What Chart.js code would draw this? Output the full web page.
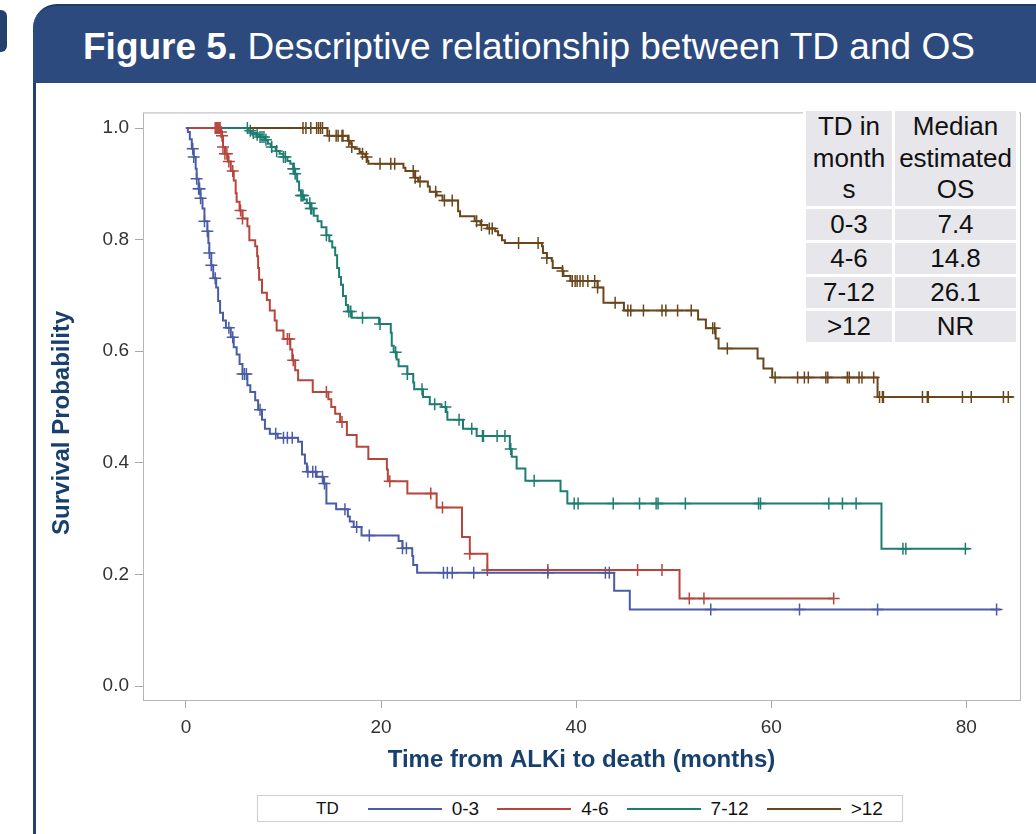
<!DOCTYPE html>
<html>
<head>
<meta charset="utf-8">
<script src="https://cdn.jsdelivr.net/npm/chart.js@4.4.0/dist/chart.umd.min.js"></script>
<style>
  body { margin: 0; width: 1036px; height: 834px; overflow: hidden; background: #fff; position: relative;
         font-family: "Liberation Sans", Arial, sans-serif; }
  #stub { position: absolute; left: 0; top: 10px; width: 7px; height: 42px; background: #24406f; border-radius: 0 6px 6px 0; }
  #banner { position: absolute; left: 33px; top: 4px; width: 1020px; height: 79px; background: #2c4a7d;
            border-top-left-radius: 24px; border-top: 2px solid #1c3c6c; box-sizing: border-box; }
  #banner h1 { margin: 0; position: absolute; left: 50px; top: 20px; font-weight: normal; font-size: 37px;
               line-height: 42px; color: #fff; white-space: nowrap; }
  #side { position: absolute; left: 33px; top: 83px; width: 3px; height: 760px; background: #24406f; }
  #wrap { position: absolute; left: 40px; top: 95px; width: 996px; height: 690px; }
  #tbl { position: absolute; left: 803px; top: 108px; border-collapse: separate; border-spacing: 3px;
         background: #fff; font-size: 26px; color: #111; text-align: center; }
  #tbl td { background: #e7e7eb; padding: 0; height: 31px; line-height: 31px; }
  #tbl tr.head td { height: 95px; line-height: 31.5px; }
  #legend { position: absolute; left: 257px; top: 795px; width: 646px; height: 27px; border: 1px solid #cfcfcf;
            box-sizing: border-box; display: flex; align-items: center; font-size: 19px; color: #111;
            white-space: nowrap; }
  #legend span { flex-shrink: 0; }
  #legend .ln { display: inline-block; width: 74px; height: 2px; margin: 0 10px 0 0; }
  #legend .lab { margin-right: 18px; }
</style>
</head>
<body>
<div id="stub"></div>
<div id="banner"><h1><b>Figure 5.</b> Descriptive relationship between TD and OS</h1></div>
<div id="side"></div>
<div id="wrap"><canvas id="km" width="996" height="690"></canvas></div>
<table id="tbl">
  <tr class="head"><td style="width:86px">TD in<br>month<br>s</td><td style="width:121px">Median<br>estimated<br>OS</td></tr>
</table>
<div id="legend"></div>

<script>
// groups and their median OS (table)
const groups = ['0-3', '4-6', '7-12', '>12'];
const medians = ['7.4', '14.8', '26.1', 'NR'];
const colors = ['#4a5ca6', '#b6453b', '#1e7d71', '#6a461c'];

// step points (time in months, survival after the drop)
const blueT = [0, 0.2, 0.4, 0.6, 0.8, 1.0, 1.1, 1.3, 1.5, 1.7, 1.9, 2.2, 2.3, 2.4, 2.6, 2.8, 3.1, 3.3, 3.5, 3.8, 4.1, 4.6, 4.9, 5.2, 5.5, 5.8, 6.3, 6.6, 7.1, 7.4, 7.8, 8.1, 8.6, 9.4, 11.5, 11.9, 12.2, 12.4, 13.4, 14.1, 14.4, 15.4, 16.6, 16.8, 17.2, 18.0, 21.8, 22.2, 23.2, 23.3, 23.7, 43.9, 45.5, 83.5];
const blueS = [1, 0.993, 0.98, 0.963, 0.948, 0.927, 0.909, 0.891, 0.874, 0.856, 0.833, 0.815, 0.794, 0.776, 0.754, 0.731, 0.714, 0.69, 0.669, 0.655, 0.642, 0.625, 0.607, 0.594, 0.577, 0.559, 0.539, 0.527, 0.512, 0.495, 0.477, 0.461, 0.452, 0.445, 0.438, 0.415, 0.399, 0.384, 0.375, 0.363, 0.327, 0.317, 0.304, 0.295, 0.285, 0.27, 0.26, 0.247, 0.233, 0.217, 0.203, 0.171, 0.137, 0.137];
const blueCens = [0.7, 0.8, 1.1, 1.3, 1.4, 1.5, 1.9, 2.2, 2.4, 2.6, 3.0, 4.4, 4.8, 5.8, 6.0, 6.2, 7.6, 9.2, 10.0, 10.4, 10.9, 12.5, 13.0, 13.3, 14.0, 14.2, 16.3, 17.5, 18.8, 22.2, 22.6, 26.4, 26.8, 27.3, 29.5, 37.1, 43.0, 43.4, 53.8, 62.9, 70.9, 83.1];

const redT = [0, 3.6, 3.7, 3.8, 4.0, 4.3, 4.6, 4.9, 5.1, 5.2, 5.5, 5.8, 6.3, 6.5, 7.1, 7.3, 7.4, 7.5, 7.8, 8.3, 8.6, 9.1, 9.3, 10.0, 10.7, 10.9, 11.2, 11.5, 13.0, 14.6, 14.9, 15.3, 15.8, 16.5, 17.5, 18.7, 20.6, 20.7, 22.7, 25.7, 28.3, 29.1, 30.9, 50.6, 66.4];
const redS = [1, 0.993, 0.986, 0.966, 0.954, 0.94, 0.923, 0.906, 0.883, 0.868, 0.852, 0.838, 0.824, 0.799, 0.788, 0.77, 0.749, 0.728, 0.705, 0.692, 0.673, 0.655, 0.637, 0.622, 0.603, 0.584, 0.566, 0.548, 0.527, 0.514, 0.5, 0.488, 0.473, 0.45, 0.429, 0.407, 0.388, 0.367, 0.345, 0.32, 0.267, 0.237, 0.208, 0.157, 0.157];
const redCens = [3.0, 3.1, 3.2, 3.3, 3.4, 3.5, 3.6, 3.7, 3.8, 4.0, 4.2, 4.4, 4.8, 5.6, 5.8, 10.4, 10.6, 11.0, 14.4, 16.0, 20.9, 25.1, 26.3, 29.1, 30.9, 37.1, 46.3, 48.8, 51.6, 53.1, 66.4];

const tealT = [0, 6.4, 6.8, 7.2, 7.6, 8.1, 8.4, 8.7, 9.2, 9.6, 10.0, 10.4, 10.7, 11.0, 11.2, 11.4, 11.6, 11.8, 12.1, 12.4, 12.8, 13.1, 13.5, 13.9, 14.4, 14.7, 15.0, 15.3, 15.5, 15.7, 15.9, 16.1, 16.4, 16.6, 17.0, 19.8, 21.0, 21.1, 21.3, 21.6, 21.8, 22.7, 23.3, 23.4, 24.3, 25.0, 26.2, 26.7, 26.8, 28.4, 29.8, 33.2, 33.4, 33.9, 34.8, 38.4, 39.1, 71.3, 80.3];
const tealS = [1, 0.995, 0.991, 0.988, 0.984, 0.979, 0.972, 0.966, 0.959, 0.954, 0.948, 0.941, 0.936, 0.927, 0.918, 0.904, 0.888, 0.879, 0.872, 0.865, 0.856, 0.843, 0.833, 0.822, 0.808, 0.797, 0.786, 0.772, 0.749, 0.733, 0.719, 0.699, 0.683, 0.671, 0.66, 0.649, 0.633, 0.61, 0.598, 0.585, 0.573, 0.559, 0.544, 0.532, 0.518, 0.505, 0.5, 0.491, 0.477, 0.461, 0.448, 0.425, 0.411, 0.39, 0.368, 0.349, 0.327, 0.246, 0.246];
const tealCens = [6.3, 6.6, 6.9, 7.3, 7.6, 7.8, 8.0, 8.2, 8.8, 9.3, 10.0, 10.2, 11.0, 11.1, 11.2, 11.8, 11.9, 12.0, 12.7, 12.8, 12.9, 14.4, 16.7, 16.9, 18.1, 19.9, 21.5, 22.7, 24.2, 25.5, 26.6, 28.0, 29.3, 30.4, 30.5, 31.9, 32.7, 33.3, 35.7, 39.8, 40.2, 43.8, 46.5, 48.2, 48.4, 51.2, 58.7, 58.9, 65.9, 67.3, 68.7, 73.5, 73.8, 79.9];

const brownT = [0, 14.5, 16.6, 16.8, 17.0, 17.3, 17.8, 18.1, 18.4, 18.6, 18.7, 22.3, 22.5, 23.5, 23.8, 24.8, 25.0, 25.7, 26.3, 27.9, 28.1, 29.6, 30.2, 30.9, 31.7, 32.0, 32.4, 32.7, 36.5, 36.6, 37.0, 37.5, 37.6, 38.6, 38.7, 39.4, 42.2, 42.8, 44.9, 52.5, 53.3, 54.3, 54.6, 58.6, 59.2, 60.1, 70.9, 84.8];
const brownS = [1, 0.986, 0.977, 0.972, 0.966, 0.963, 0.957, 0.954, 0.948, 0.941, 0.936, 0.929, 0.923, 0.911, 0.904, 0.895, 0.886, 0.879, 0.87, 0.851, 0.842, 0.833, 0.826, 0.82, 0.815, 0.808, 0.799, 0.794, 0.788, 0.776, 0.767, 0.762, 0.749, 0.744, 0.735, 0.726, 0.714, 0.687, 0.673, 0.657, 0.641, 0.623, 0.605, 0.587, 0.569, 0.553, 0.518, 0.518];
const brownCens = [12.0, 12.3, 12.8, 13.4, 13.6, 13.8, 14.0, 14.7, 15.4, 15.6, 16.0, 16.1, 16.7, 17.0, 18.1, 18.5, 19.9, 21.0, 21.4, 23.3, 23.5, 24.0, 25.6, 26.5, 27.3, 29.8, 30.3, 31.1, 31.4, 34.1, 36.1, 37.0, 38.6, 39.6, 39.9, 40.1, 40.4, 40.7, 41.2, 41.9, 42.2, 44.0, 45.3, 45.6, 46.9, 48.8, 49.2, 50.4, 51.8, 54.0, 54.2, 55.5, 60.4, 62.7, 63.4, 63.8, 65.6, 65.8, 67.8, 68.0, 69.0, 69.3, 70.5, 71.1, 71.4, 71.5, 75.5, 76.0, 76.1, 79.6, 80.5, 83.8, 84.3];

const xTicks = [0, 20, 40, 60, 80];
const yTicks = [0, 0.2, 0.4, 0.6, 0.8, 1.0];

const curves = [[blueT, blueS, blueCens], [redT, redS, redCens], [tealT, tealS, tealCens], [brownT, brownS, brownCens]];

// survival value of a step curve at time t
function survAt(T, S, t) {
  let s = S[0];
  for (let i = 0; i < T.length; i++) if (T[i] <= t) s = S[i];
  return s;
}

// median table rows
const tbl = document.getElementById('tbl');
groups.forEach((g, i) => {
  const tr = document.createElement('tr');
  tr.innerHTML = '<td>' + g.replace('>', '&gt;') + '</td><td>' + medians[i] + '</td>';
  tbl.appendChild(tr);
});

// legend
const legend = document.getElementById('legend');
let html = '<span style="margin-left:58px;margin-right:29px;font-size:17px">TD</span>';
groups.forEach((g, i) => {
  html += '<span class="ln" style="background:' + colors[i] + '"></span><span class="lab">' + g.replace('>', '&gt;') + '</span>';
});
legend.innerHTML = html;

const datasets = [];
curves.forEach((c, i) => {
  datasets.push({
    data: c[0].map((t, j) => ({ x: t, y: c[1][j] })),
    borderColor: colors[i], borderWidth: 2, stepped: true, pointRadius: 0, fill: false
  });
});
curves.forEach((c, i) => {
  datasets.push({
    data: c[2].map(t => ({ x: t, y: survAt(c[0], c[1], t) })),
    showLine: false, pointStyle: 'cross', pointRadius: 6, pointBorderWidth: 1.5,
    pointBorderColor: colors[i], pointBackgroundColor: colors[i]
  });
});

const frame = {
  id: 'frame',
  beforeDatasetsDraw(chart) {
    const a = chart.chartArea, ctx = chart.ctx;
    ctx.save();
    ctx.strokeStyle = '#b3b6ba';
    ctx.lineWidth = 1;
    ctx.strokeRect(a.left + 0.5, a.top + 0.5, a.right - a.left, a.bottom - a.top);
    ctx.restore();
  }
};

new Chart(document.getElementById('km'), {
  type: 'line',
  data: { datasets },
  plugins: [frame],
  options: {
    responsive: false,
    animation: false,
    layout: { padding: { top: 13, right: 16, left: 0, bottom: 0 } },
    plugins: { legend: { display: false }, tooltip: { enabled: false } },
    scales: {
      x: {
        type: 'linear', min: -4.4, max: 85.5,
        afterBuildTicks: s => { s.ticks = xTicks.map(v => ({ value: v })); },
        afterFit: s => { s.height = 85; },
        grid: { drawOnChartArea: false, tickLength: 8, color: '#a8a8a8' },
        border: { display: false },
        ticks: { padding: 8, color: '#333', font: { family: 'Liberation Sans', size: 19 } },
        title: { display: true, text: 'Time from ALKi to death (months)', color: '#17406e',
                 padding: { top: 0, bottom: 10 }, font: { family: 'Liberation Sans', size: 24, weight: 'bold' } }
      },
      y: {
        min: -0.025, max: 1.028,
        afterBuildTicks: s => { s.ticks = yTicks.map(v => ({ value: v })); },
        afterFit: s => { s.width = 103; },
        grid: { drawOnChartArea: false, tickLength: 8, color: '#a8a8a8' },
        border: { display: false },
        ticks: { padding: 6, color: '#333', font: { family: 'Liberation Sans', size: 19 }, callback: v => v.toFixed(1) },
        title: { display: true, text: 'Survival Probability' + '\u00a0'.repeat(5), color: '#17406e',
                 padding: { top: 8, bottom: 0 }, font: { family: 'Liberation Sans', size: 24, weight: 'bold' } }
      }
    }
  }
});
</script>
</body>
</html>
